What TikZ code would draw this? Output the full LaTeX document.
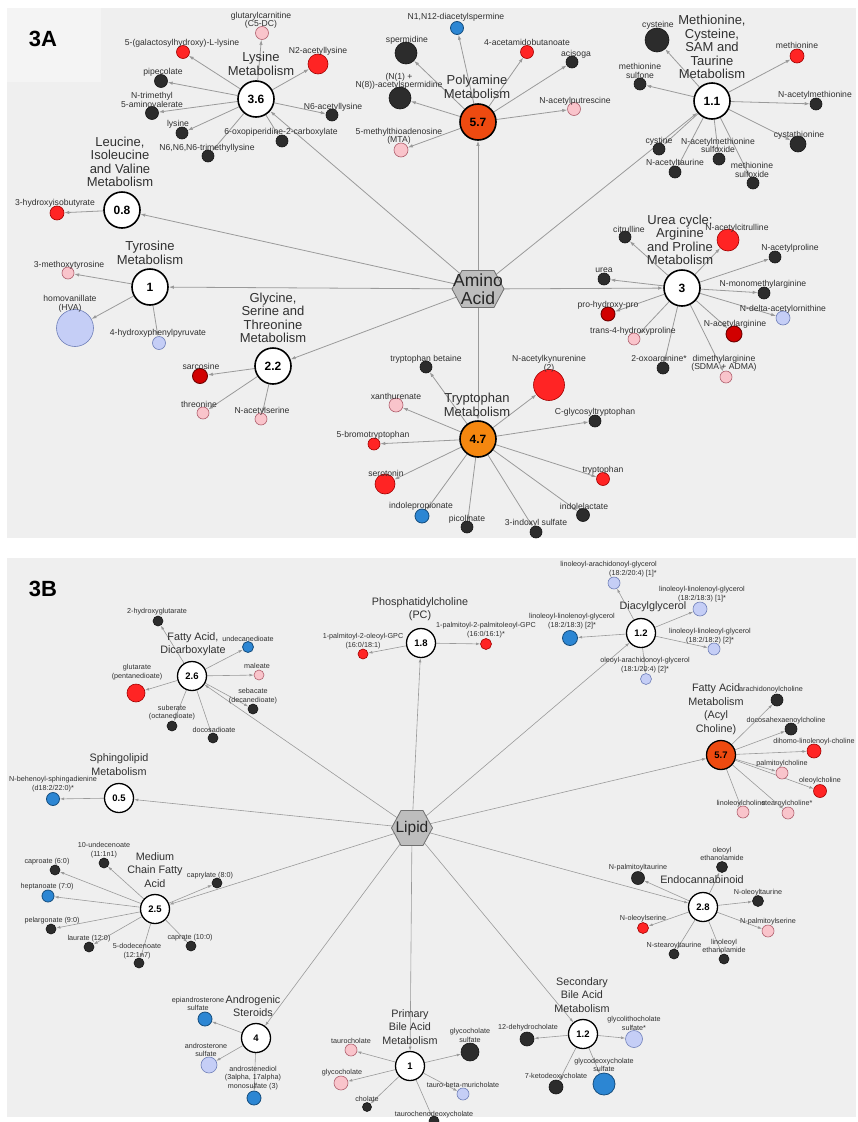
\documentclass[tikz,border=0pt]{standalone}
\usepackage{fontspec}
\setmainfont{Liberation Sans}
\usepackage{xcolor}
\usepackage{tikz}
\usetikzlibrary{arrows.meta}
\definecolor{panelgray}{HTML}{EFEFEF}
\definecolor{tagbox}{HTML}{F4F4F4}
\definecolor{linkgray}{HTML}{9A9A9A}
\definecolor{txtgray}{HTML}{303030}
\definecolor{hexgray}{HTML}{BDBDBD}
\definecolor{hexline}{HTML}{707070}
\definecolor{dotdark}{HTML}{2C2C2C}
\definecolor{dotdarkB}{HTML}{151515}
\definecolor{dotred}{HTML}{FF2424}
\definecolor{dotredB}{HTML}{A00000}
\definecolor{dotdred}{HTML}{D10000}
\definecolor{dotdredB}{HTML}{6E0000}
\definecolor{dotpink}{HTML}{F9C4CB}
\definecolor{dotpinkB}{HTML}{B0606E}
\definecolor{dotlblue}{HTML}{C5CEF6}
\definecolor{dotlblueB}{HTML}{6F7FB8}
\definecolor{dotblue}{HTML}{2C86D3}
\definecolor{dotblueB}{HTML}{154D7D}
\definecolor{hubred}{HTML}{EE4A10}
\definecolor{huborange}{HTML}{F5870F}
\pgfdeclarelayer{back}
\pgfdeclarelayer{edges}
\pgfsetlayers{back,edges,main}
\tikzset{
    met/.style={circle, inner sep=0pt, line width=0.6pt},
    dk/.style={met, fill=dotdark, draw=dotdarkB, minimum size=#1}, dk/.default=12,
    rd/.style={met, fill=dotred, draw=dotredB, minimum size=#1}, rd/.default=12,
    dr/.style={met, fill=dotdred, draw=dotdredB, line width=0.9pt, minimum size=#1}, dr/.default=14,
    pk/.style={met, fill=dotpink, draw=dotpinkB, minimum size=#1}, pk/.default=12,
    lb/.style={met, fill=dotlblue, draw=dotlblueB, minimum size=#1}, lb/.default=12,
    bl/.style={met, fill=dotblue, draw=dotblueB, line width=0.8pt, minimum size=#1}, bl/.default=13,
    hub/.style={circle, draw=black, line width=1.6pt, fill=white, inner sep=0pt, minimum size=36pt, font=\bfseries\fontsize{12}{12}\selectfont},
    hubB/.style={hub, minimum size=29pt, line width=1.3pt, font=\bfseries\fontsize{9.5}{9.5}\selectfont},
    lblA/.style={inner sep=0pt, align=center, text=txtgray, font=\fontsize{8.6}{8.5}\selectfont},
    lblB/.style={inner sep=0pt, align=center, text=txtgray, font=\fontsize{7.2}{8.3}\selectfont},
    ttlA/.style={inner sep=0pt, align=center, text=txtgray, font=\fontsize{13}{13.5}\selectfont},
    ttlB/.style={inner sep=0pt, align=center, text=txtgray, font=\fontsize{10.8}{13.5}\selectfont},
    link/.style={draw=linkgray, line width=0.8pt, -{Latex[length=5pt, width=3.4pt]}},
    linkB/.style={draw=linkgray, line width=0.6pt, -{Latex[length=4.2pt, width=2.8pt]}},
    hexa/.style={fill=hexgray, draw=hexline, line width=0.8pt},
    hextxt/.style={inner sep=0pt, align=center, text=black!85},
    tag/.style={inner sep=0pt, font=\bfseries\fontsize{22}{22}\selectfont}
}

\begin{document}
\begin{tikzpicture}[x=1pt, y=-1pt]
    \useasboundingbox (0,0) rectangle (857,1122);
    \begin{pgfonlayer}{back}
        \fill[white] (0,0) rectangle (857,1122);
        \fill[panelgray] (7,8) rectangle (856,538);
        \fill[panelgray] (7,558) rectangle (856,1117);
        \fill[tagbox] (7,8) rectangle (101,82);
    \end{pgfonlayer}

    % ================= 3A : AMINO ACID =================
    \node[tag] (tagA) at (43,39) {3A};

    \coordinate (AA) at (478,289);
    \filldraw[hexa] (AA) +(-26,0) -- +(-16,-18.5) -- +(16,-18.5) -- +(26,0) -- +(16,18.5) -- +(-16,18.5) -- cycle;
    \node[hextxt, font=\fontsize{17.5}{18.5}\selectfont] (AAt) at (AA) {Amino\\Acid};

    % --- Lysine ---
    \node[hub] (lys) at (256,99) {3.6};
    \node[ttlA] (lysT) at (261,64) {Lysine\\Metabolism};
    \node[pk=13] (glu) at (262,33) {};
    \node[lblA] (glu-l) at (261,20.5) {glutarylcarnitine\\(C5-DC)};
    \node[rd=13] (gal) at (183,52) {};
    \node[lblA] (gal-l) at (182,43) {5-(galactosylhydroxy)-L-lysine};
    \node[rd=20] (n2a) at (318,64) {};
    \node[lblA] (n2a-l) at (318,51.5) {N2-acetyllysine};
    \node[dk=13] (pip) at (161,81) {};
    \node[lblA] (pip-l) at (163,72.5) {pipecolate};
    \node[dk=13] (ntm) at (152,113) {};
    \node[lblA] (ntm-l) at (152,100) {N-trimethyl\\5-aminovalerate};
    \node[dk=12] (lysn) at (182,133) {};
    \node[lblA] (lysn-l) at (178,124) {lysine};
    \node[dk=12] (n6t) at (208,156) {};
    \node[lblA] (n6t-l) at (207,148) {N6,N6,N6-trimethyllysine};
    \node[dk=12] (oxo) at (282,141) {};
    \node[lblA] (oxo-l) at (281,132) {6-oxopiperidine-2-carboxylate};
    \node[dk=12] (n6a) at (332,115) {};
    \node[lblA] (n6a-l) at (333,107) {N6-acetyllysine};
    \begin{pgfonlayer}{edges}
        \foreach \m in {glu, gal, n2a, pip, ntm, lysn, n6t, oxo, n6a}
            \draw[link] (lys) -- (\m);
    \end{pgfonlayer}

    % --- Leucine ---
    \node[hub] (leu) at (122,210) {0.8};
    \node[ttlA] (leuT) at (120,162) {Leucine,\\Isoleucine\\and Valine\\Metabolism};
    \node[rd=14] (hib) at (57,213) {};
    \node[lblA] (hib-l) at (55,203) {3-hydroxyisobutyrate};
    \begin{pgfonlayer}{edges}
        \draw[link] (leu) -- (hib);
    \end{pgfonlayer}

    % --- Tyrosine ---
    \node[hub] (tyr) at (150,287) {1};
    \node[ttlA] (tyrT) at (150,253) {Tyrosine\\Metabolism};
    \node[pk=12] (mty) at (68,273) {};
    \node[lblA] (mty-l) at (69,265) {3-methoxytyrosine};
    \node[lb=37] (hva) at (75,328) {};
    \node[lblA] (hva-l) at (70,304) {homovanillate\\(HVA)};
    \node[lb=13] (hpp) at (159,343) {};
    \node[lblA] (hpp-l) at (158,333.5) {4-hydroxyphenylpyruvate};
    \begin{pgfonlayer}{edges}
        \foreach \m in {mty, hva, hpp}
            \draw[link] (tyr) -- (\m);
    \end{pgfonlayer}

    % --- Glycine ---
    \node[hub] (gly) at (273,366) {2.2};
    \node[ttlA] (glyT) at (273,318) {Glycine,\\Serine and\\Threonine\\Metabolism};
    \node[dr=15] (sar) at (200,376) {};
    \node[lblA] (sar-l) at (201,366) {sarcosine};
    \node[pk=12] (thr) at (203,413) {};
    \node[lblA] (thr-l) at (199,404) {threonine};
    \node[pk=12] (nas) at (261,419) {};
    \node[lblA] (nas-l) at (262,411) {N-acetylserine};
    \begin{pgfonlayer}{edges}
        \foreach \m in {sar, thr, nas}
            \draw[link] (gly) -- (\m);
    \end{pgfonlayer}

    % --- Tryptophan ---
    \node[hub, fill=huborange] (trpH) at (478,439) {4.7};
    \node[ttlA] (trpT) at (477,405) {Tryptophan\\Metabolism};
    \node[dk=12] (tbe) at (426,367) {};
    \node[lblA] (tbe-l) at (426,359) {tryptophan betaine};
    \node[rd=31] (nak) at (549,385) {};
    \node[lblA] (nak-l) at (549,364) {N-acetylkynurenine\\(2)};
    \node[pk=14] (xan) at (396,405) {};
    \node[lblA] (xan-l) at (396,396) {xanthurenate};
    \node[dk=12] (cgt) at (595,421) {};
    \node[lblA] (cgt-l) at (595,412) {C-glycosyltryptophan};
    \node[rd=12] (btr) at (374,444) {};
    \node[lblA] (btr-l) at (373,435) {5-bromotryptophan};
    \node[rd=20] (ser) at (385,484) {};
    \node[lblA] (ser-l) at (386,473) {serotonin};
    \node[rd=13] (trp) at (603,479) {};
    \node[lblA] (trp-l) at (603,470) {tryptophan};
    \node[bl=14] (ipr) at (422,516) {};
    \node[lblA] (ipr-l) at (421,506) {indolepropionate};
    \node[dk=12] (pic) at (467,527) {};
    \node[lblA] (pic-l) at (467,519) {picolinate};
    \node[dk=12] (ixs) at (536,532) {};
    \node[lblA] (ixs-l) at (536,523) {3-indoxyl sulfate};
    \node[dk=13] (ilt) at (583,515) {};
    \node[lblA] (ilt-l) at (584,506) {indolelactate};
    \begin{pgfonlayer}{edges}
        \foreach \m in {tbe, nak, xan, cgt, btr, ser, trp, ipr, pic, ixs, ilt}
            \draw[link] (trpH) -- (\m);
    \end{pgfonlayer}

    % --- Urea cycle ---
    \node[hub] (urea) at (682,288) {3};
    \node[ttlA] (ureaT) at (680,240) {Urea cycle;\\Arginine\\and Proline\\Metabolism};
    \node[dk=12] (cit) at (625,237) {};
    \node[lblA] (cit-l) at (629,229) {citrulline};
    \node[rd=22] (nac) at (728,240) {};
    \node[lblA] (nac-l) at (737,228) {N-acetylcitrulline};
    \node[dk=12] (nap) at (775,257) {};
    \node[lblA] (nap-l) at (790,248) {N-acetylproline};
    \node[dk=12] (ure) at (604,279) {};
    \node[lblA] (ure-l) at (604,270) {urea};
    \node[dk=12] (nmm) at (764,293) {};
    \node[lblA] (nmm-l) at (763,284) {N-monomethylarginine};
    \node[lb=14] (nda) at (783,318) {};
    \node[lblA] (nda-l) at (783,309) {N-delta-acetylornithine};
    \node[dr=16] (nar) at (734,334) {};
    \node[lblA] (nar-l) at (735,324) {N-acetylarginine};
    \node[dr=14] (php) at (608,314) {};
    \node[lblA] (php-l) at (608,305) {pro-hydroxy-pro};
    \node[pk=12] (thp) at (634,339) {};
    \node[lblA] (thp-l) at (633,331.5) {trans-4-hydroxyproline};
    \node[dk=12] (oxa) at (663,368) {};
    \node[lblA] (oxa-l) at (659,359) {2-oxoarginine*};
    \node[pk=12] (dma) at (726,377) {};
    \node[lblA] (dma-l) at (724,363.5) {dimethylarginine\\(SDMA + ADMA)};
    \begin{pgfonlayer}{edges}
        \foreach \m in {cit, nac, nap, ure, nmm, nda, nar, php, thp, oxa, dma}
            \draw[link] (urea) -- (\m);
    \end{pgfonlayer}

    % --- Polyamine ---
    \node[hub, fill=hubred] (poly) at (478,122) {5.7};
    \node[ttlA] (polyT) at (477,87) {Polyamine\\Metabolism};
    \node[bl=13] (dsp) at (457,28) {};
    \node[lblA] (dsp-l) at (456,17) {N1,N12-diacetylspermine};
    \node[dk=22] (spd) at (406,53) {};
    \node[lblA] (spd-l) at (407,40) {spermidine};
    \node[rd=13] (aab) at (527,52) {};
    \node[lblA] (aab-l) at (527,42) {4-acetamidobutanoate};
    \node[dk=12] (aci) at (572,62) {};
    \node[lblA] (aci-l) at (576,54) {acisoga};
    \node[dk=22] (nsp) at (400,98) {};
    \node[lblA] (nsp-l) at (399,81.5) {(N(1) +\\N(8))-acetylspermidine};
    \node[pk=13] (npu) at (574,109) {};
    \node[lblA] (npu-l) at (575,101) {N-acetylputrescine};
    \node[pk=14] (mta) at (401,150) {};
    \node[lblA] (mta-l) at (399,136.5) {5-methylthioadenosine\\(MTA)};
    \begin{pgfonlayer}{edges}
        \foreach \m in {dsp, spd, aab, aci, nsp, npu, mta}
            \draw[link] (poly) -- (\m);
    \end{pgfonlayer}

    % --- Methionine ---
    \node[hub] (metH) at (712,101) {1.1};
    \node[ttlA] (metT) at (712,47) {Methionine,\\Cysteine,\\SAM and\\Taurine\\Metabolism};
    \node[dk=24] (cys) at (657,40) {};
    \node[lblA] (cys-l) at (658,25) {cysteine};
    \node[rd=14] (mtn) at (797,56) {};
    \node[lblA] (mtn-l) at (797,45) {methionine};
    \node[dk=12] (msu) at (640,84) {};
    \node[lblA] (msu-l) at (640,71) {methionine\\sulfone};
    \node[dk=12] (nam) at (816,104) {};
    \node[lblA] (nam-l) at (815,95) {N-acetylmethionine};
    \node[dk=16] (cth) at (798,144) {};
    \node[lblA] (cth-l) at (799,135) {cystathionine};
    \node[dk=12] (cyn) at (659,149) {};
    \node[lblA] (cyn-l) at (659,141) {cystine};
    \node[dk=12] (nms) at (719,159) {};
    \node[lblA] (nms-l) at (718,145.5) {N-acetylmethionine\\sulfoxide};
    \node[dk=12] (nat) at (675,172) {};
    \node[lblA] (nat-l) at (675,163) {N-acetyltaurine};
    \node[dk=12] (mso) at (753,183) {};
    \node[lblA] (mso-l) at (752,170) {methionine\\sulfoxide};
    \begin{pgfonlayer}{edges}
        \foreach \m in {cys, mtn, msu, nam, cth, cyn, nms, nat, mso}
            \draw[link] (metH) -- (\m);
        % hexagon to pathways
        \foreach \h in {lys, leu, tyr, gly, trpH, urea, metH, poly}
            \draw[link] (AA) -- (\h);
    \end{pgfonlayer}

    % ================= 3B : LIPID =================
    \node[tag] (tagB) at (43,589) {3B};

    \coordinate (LP) at (412,828);
    \filldraw[hexa] (LP) +(-20.5,0) -- +(-11,-17.5) -- +(11,-17.5) -- +(20.5,0) -- +(11,17.5) -- +(-11,17.5) -- cycle;
    \node[hextxt, font=\fontsize{15.5}{16}\selectfont] (LPt) at (LP) {Lipid};

    % --- Fatty Acid, Dicarboxylate ---
    \node[hubB] (fad) at (192,676) {2.6};
    \node[ttlB] (fadT) at (193,644) {Fatty Acid,\\Dicarboxylate};
    \node[dk=10] (hgl) at (158,621) {};
    \node[lblB] (hgl-l) at (157,612) {2-hydroxyglutarate};
    \node[bl=11] (und) at (248,647) {};
    \node[lblB] (und-l) at (248,639) {undecanedioate};
    \node[pk=10] (mal) at (259,675) {};
    \node[lblB] (mal-l) at (257,666) {maleate};
    \node[rd=18] (glt) at (136,693) {};
    \node[lblB] (glt-l) at (137,672) {glutarate\\(pentanedioate)};
    \node[dk=10] (seb) at (253,709) {};
    \node[lblB] (seb-l) at (253,696) {sebacate\\(decanedioate)};
    \node[dk=10] (sub) at (172,726) {};
    \node[lblB] (sub-l) at (172,712.5) {suberate\\(octanedioate)};
    \node[dk=10] (doc) at (213,738) {};
    \node[lblB] (doc-l) at (214,730) {docosadioate};
    \begin{pgfonlayer}{edges}
        \foreach \m in {hgl, und, mal, glt, seb, sub, doc}
            \draw[linkB] (fad) -- (\m);
    \end{pgfonlayer}

    % --- Sphingolipid ---
    \node[hubB] (sph) at (119,798) {0.5};
    \node[ttlB] (sphT) at (119,764.5) {Sphingolipid\\Metabolism};
    \node[bl=13] (nbs) at (53,799) {};
    \node[lblB] (nbs-l) at (53,784) {N-behenoyl-sphingadienine\\(d18:2/22:0)*};
    \begin{pgfonlayer}{edges}
        \draw[linkB] (sph) -- (nbs);
    \end{pgfonlayer}

    % --- Phosphatidylcholine ---
    \node[hubB] (pc) at (421,643) {1.8};
    \node[ttlB] (pcT) at (420,609) {Phosphatidylcholine\\(PC)};
    \node[rd=10] (poc) at (363,654) {};
    \node[lblB] (poc-l) at (363,641) {1-palmitoyl-2-oleoyl-GPC\\(16:0/18:1)};
    \node[rd=11] (ppc) at (486,644) {};
    \node[lblB] (ppc-l) at (486,630) {1-palmitoyl-2-palmitoleoyl-GPC\\(16:0/16:1)*};
    \begin{pgfonlayer}{edges}
        \foreach \m in {poc, ppc}
            \draw[linkB] (pc) -- (\m);
    \end{pgfonlayer}

    % --- Diacylglycerol ---
    \node[hubB] (dag) at (641,633) {1.2};
    \node[ttlB] (dagT) at (653,607) {Diacylglycerol};
    \node[lb=12] (lag1) at (614,583) {};
    \node[lblB, align=right, anchor=east] (lag1-l) at (657,569) {linoleoyl-arachidonoyl-glycerol\\(18:2/20:4) [1]*};
    \node[lb=14] (lln1) at (700,609) {};
    \node[lblB] (lln1-l) at (702,594) {linoleoyl-linolenoyl-glycerol\\(18:2/18:3) [1]*};
    \node[bl=15] (lln2) at (570,638) {};
    \node[lblB] (lln2-l) at (572,621) {linoleoyl-linolenoyl-glycerol\\(18:2/18:3) [2]*};
    \node[lb=12] (lll2) at (714,649) {};
    \node[lblB] (lll2-l) at (710,636) {linoleoyl-linoleoyl-glycerol\\(18:2/18:2) [2]*};
    \node[lb=11] (oag2) at (646,679) {};
    \node[lblB] (oag2-l) at (645,665) {oleoyl-arachidonoyl-glycerol\\(18:1/20:4) [2]*};
    \begin{pgfonlayer}{edges}
        \foreach \m in {lag1, lln1, lln2, lll2, oag2}
            \draw[linkB] (dag) -- (\m);
    \end{pgfonlayer}

    % --- Fatty Acid Metabolism (Acyl Choline) ---
    \node[hubB, fill=hubred] (fam) at (721,755) {5.7};
    \node[ttlB] (famT) at (716,709) {Fatty Acid\\Metabolism\\(Acyl\\Choline)};
    \node[dk=12] (arc) at (777,700) {};
    \node[lblB] (arc-l) at (771,690) {arachidonoylcholine};
    \node[dk=12] (dhx) at (791,729) {};
    \node[lblB] (dhx-l) at (786,721) {docosahexaenoylcholine};
    \node[rd=14] (dlc) at (814,751) {};
    \node[lblB] (dlc-l) at (814,742) {dihomo-linolenoyl-choline};
    \node[pk=12] (pmc) at (782,773) {};
    \node[lblB] (pmc-l) at (782,764) {palmitoylcholine};
    \node[rd=13] (olc) at (820,791) {};
    \node[lblB] (olc-l) at (820,781) {oleoylcholine};
    \node[pk=12] (llc) at (743,812) {};
    \node[lblB] (llc-l) at (741,804) {linoleoylcholine};
    \node[pk=12] (stc) at (788,813) {};
    \node[lblB] (stc-l) at (787,804) {stearoylcholine*};
    \begin{pgfonlayer}{edges}
        \foreach \m in {arc, dhx, dlc, pmc, olc, llc, stc}
            \draw[linkB] (fam) -- (\m);
    \end{pgfonlayer}

    % --- Medium Chain Fatty Acid ---
    \node[hubB] (mcf) at (155,909) {2.5};
    \node[ttlB] (mcfT) at (155,870) {Medium\\Chain Fatty\\Acid};
    \node[dk=10] (ude) at (104,863) {};
    \node[lblB] (ude-l) at (104,850) {10-undecenoate\\(11:1n1)};
    \node[dk=10] (cpr) at (55,870) {};
    \node[lblB] (cpr-l) at (47,862) {caproate (6:0)};
    \node[dk=10] (cpy) at (217,883) {};
    \node[lblB] (cpy-l) at (210,876) {caprylate (8:0)};
    \node[bl=12] (hep) at (48,896) {};
    \node[lblB] (hep-l) at (47,887) {heptanoate (7:0)};
    \node[dk=10] (pel) at (51,929) {};
    \node[lblB] (pel-l) at (52,921) {pelargonate (9:0)};
    \node[dk=10] (lau) at (89,947) {};
    \node[lblB] (lau-l) at (89,939) {laurate (12:0)};
    \node[dk=10] (ddc) at (139,963) {};
    \node[lblB] (ddc-l) at (137,951) {5-dodecenoate\\(12:1n7)};
    \node[dk=10] (cpt) at (191,946) {};
    \node[lblB] (cpt-l) at (190,938) {caprate (10:0)};
    \begin{pgfonlayer}{edges}
        \foreach \m in {ude, cpr, cpy, hep, pel, lau, ddc, cpt}
            \draw[linkB] (mcf) -- (\m);
    \end{pgfonlayer}

    % --- Androgenic Steroids ---
    \node[hubB] (ast) at (256,1038) {4};
    \node[ttlB] (astT) at (253,1006) {Androgenic\\Steroids};
    \node[bl=14] (eps) at (205,1019) {};
    \node[lblB] (eps-l) at (198,1004) {epiandrosterone\\sulfate};
    \node[lb=16] (ans) at (209,1065) {};
    \node[lblB] (ans-l) at (206,1050) {androsterone\\sulfate};
    \node[bl=14] (adl) at (254,1098) {};
    \node[lblB] (adl-l) at (253,1078) {androstenediol\\(3alpha, 17alpha)\\monosulfate (3)};
    \begin{pgfonlayer}{edges}
        \foreach \m in {eps, ans, adl}
            \draw[linkB] (ast) -- (\m);
    \end{pgfonlayer}

    % --- Primary Bile Acid ---
    \node[hubB] (pba) at (410,1066) {1};
    \node[ttlB] (pbaT) at (410,1027) {Primary\\Bile Acid\\Metabolism};
    \node[pk=12] (tch) at (351,1050) {};
    \node[lblB] (tch-l) at (351,1041) {taurocholate};
    \node[dk=18] (gcs) at (470,1052) {};
    \node[lblB] (gcs-l) at (470,1035.5) {glycocholate\\sulfate};
    \node[pk=14] (gch) at (341,1083) {};
    \node[lblB] (gch-l) at (342,1073) {glycocholate};
    \node[lb=12] (tbm) at (463,1094) {};
    \node[lblB] (tbm-l) at (463,1085) {tauro-beta-muricholate};
    \node[dk=9] (cho) at (367,1107) {};
    \node[lblB] (cho-l) at (367,1099) {cholate};
    \node[dk=10] (tcd) at (434,1121) {};
    \node[lblB] (tcd-l) at (434,1115) {taurochenodeoxycholate};
    \begin{pgfonlayer}{edges}
        \foreach \m in {tch, gcs, gch, tbm, cho, tcd}
            \draw[linkB] (pba) -- (\m);
    \end{pgfonlayer}

    % --- Secondary Bile Acid ---
    \node[hubB] (sba) at (583,1034) {1.2};
    \node[ttlB] (sbaT) at (582,995) {Secondary\\Bile Acid\\Metabolism};
    \node[dk=14] (dhc) at (527,1039) {};
    \node[lblB] (dhc-l) at (528,1028) {12-dehydrocholate};
    \node[lb=17] (gls) at (634,1039) {};
    \node[lblB] (gls-l) at (634,1023.5) {glycolithocholate\\sulfate*};
    \node[dk=14] (kdc) at (556,1087) {};
    \node[lblB] (kdc-l) at (556,1077) {7-ketodeoxycholate};
    \node[bl=22] (gds) at (604,1084) {};
    \node[lblB] (gds-l) at (604,1065) {glycodeoxycholate\\sulfate};
    \begin{pgfonlayer}{edges}
        \foreach \m in {dhc, gls, kdc, gds}
            \draw[linkB] (sba) -- (\m);
    \end{pgfonlayer}

    % --- Endocannabinoid ---
    \node[hubB] (ecb) at (703,907) {2.8};
    \node[ttlB] (ecbT) at (702,880) {Endocannabinoid};
    \node[dk=11] (oea) at (722,867) {};
    \node[lblB] (oea-l) at (722,854) {oleoyl\\ethanolamide};
    \node[dk=13] (npt) at (638,878) {};
    \node[lblB] (npt-l) at (638,868) {N-palmitoyltaurine};
    \node[dk=11] (not) at (758,901) {};
    \node[lblB] (not-l) at (758,893) {N-oleoyltaurine};
    \node[rd=11] (nos) at (643,928) {};
    \node[lblB] (nos-l) at (643,919) {N-oleoylserine};
    \node[pk=12] (nps) at (768,931) {};
    \node[lblB] (nps-l) at (768,922) {N-palmitoylserine};
    \node[dk=10] (nst) at (674,954) {};
    \node[lblB] (nst-l) at (674,946) {N-stearoyltaurine};
    \node[dk=10] (lea) at (724,959) {};
    \node[lblB] (lea-l) at (724,946) {linoleoyl\\ethanolamide};
    \begin{pgfonlayer}{edges}
        \foreach \m in {oea, npt, not, nos, nps, nst, lea}
            \draw[linkB] (ecb) -- (\m);
        % hexagon to pathways
        \foreach \h in {fad, sph, pc, dag, fam, mcf, ast, pba, sba, ecb}
            \draw[linkB] (LP) -- (\h);
    \end{pgfonlayer}

\end{tikzpicture}
\end{document}
